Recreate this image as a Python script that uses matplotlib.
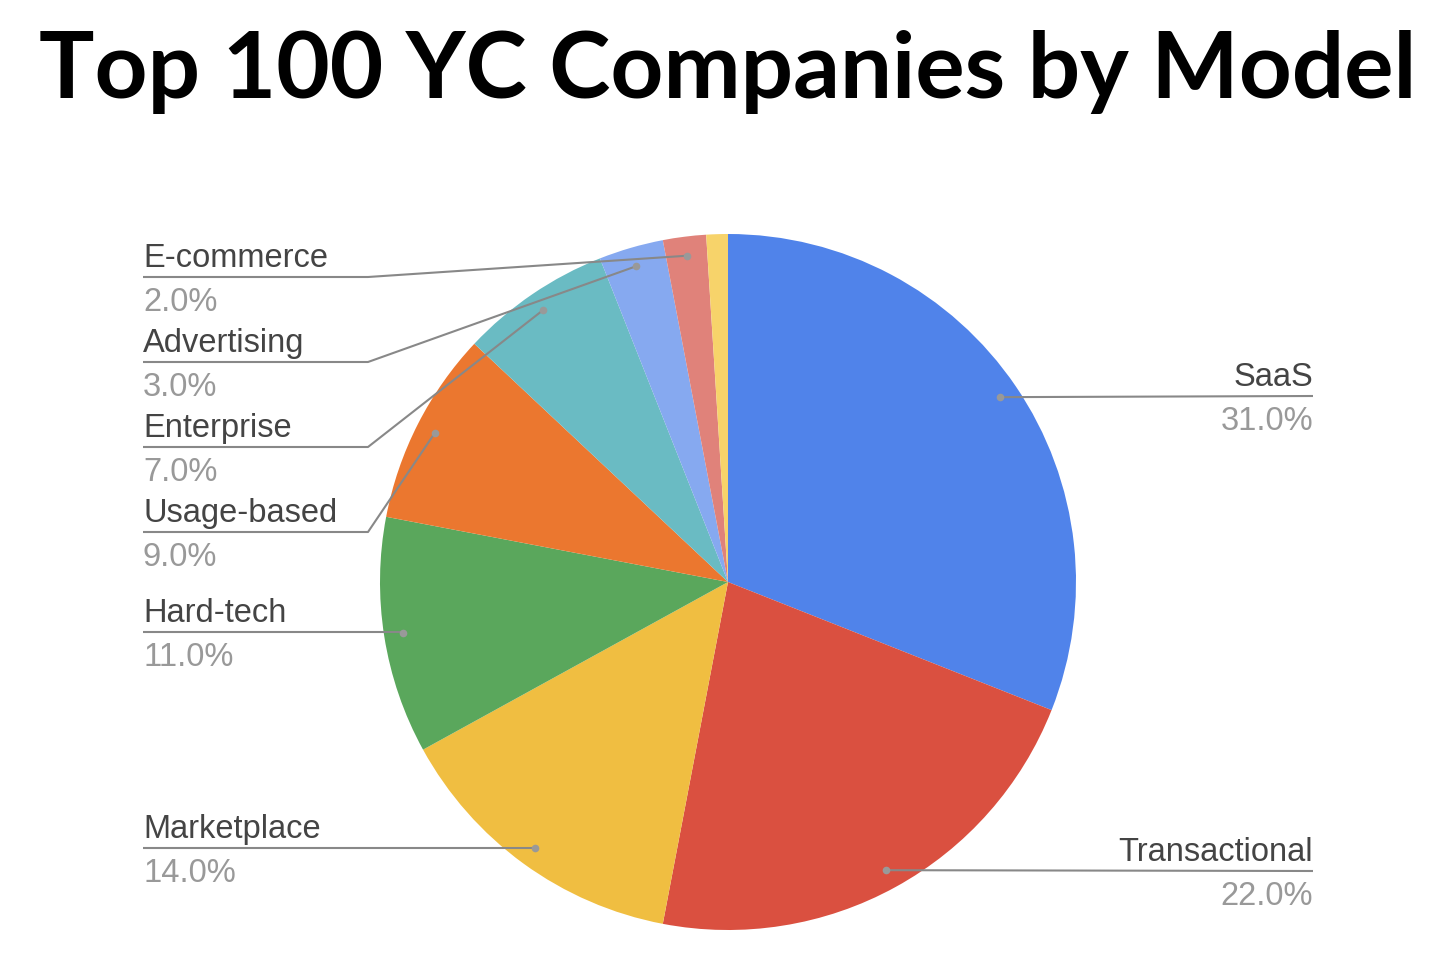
import matplotlib
matplotlib.use("agg")
import matplotlib.pyplot as plt
import numpy as np

# data
categories = ["SaaS", "Transactional", "Marketplace", "Hard-tech", "Usage-based",
              "Enterprise", "Advertising", "E-commerce", "Other"]
shares = [31, 22, 14, 11, 9, 7, 3, 2, 1]
colors = ["#5083EA", "#DA5040", "#F0BE41", "#5AA75C", "#EB772F",
          "#6ABBC3", "#86A9F0", "#E0827A", "#F7D36A"]
shown = ["SaaS", "Transactional", "Marketplace", "Hard-tech", "Usage-based",
         "Enterprise", "Advertising", "E-commerce"]

W, H = 1456, 964
CX, CY, R = 728, H - 582, 348

# label layout: (side, y of underline in px from top)
layout = {
    "SaaS": ("right", 396),
    "Transactional": ("right", 871),
    "Marketplace": ("left", 848),
    "Hard-tech": ("left", 632),
    "Usage-based": ("left", 532),
    "Enterprise": ("left", 447),
    "Advertising": ("left", 362),
    "E-commerce": ("left", 277),
}

fig = plt.figure(figsize=(W / 100, H / 100), dpi=100)
ax = fig.add_axes([0, 0, 1, 1])

ax.pie(shares, colors=colors, startangle=90, counterclock=False,
       center=(CX, CY), radius=R, wedgeprops=dict(linewidth=0),
       frame=True)
ax.set_xlim(0, W)
ax.set_ylim(0, H)
ax.set_aspect("equal")
ax.axis("off")

cum = np.cumsum([0] + shares[:-1])
total = sum(shares)
line_c = "#888888"
fs = 23.5
fam = "Liberation Sans"
for i, name in enumerate(categories):
    if name not in shown:
        continue
    mid = (cum[i] + shares[i] / 2) / total * 360
    ang = np.deg2rad(90 - mid)
    dx = CX + 0.945 * R * np.cos(ang)
    dy = CY + 0.945 * R * np.sin(ang)
    side, ypx = layout[name]
    ly = H - ypx
    pct = "{:.1f}%".format(shares[i] / total * 100)
    if side == "right":
        tx, ha = 1313, "right"
        xs = [dx, 1313]
        ys = [dy, ly]
    else:
        tx, ha = 143, "left"
        if abs(ly - dy) < 3:
            xs = [143, dx]
            ys = [ly, ly]
        else:
            xs = [143, 368, dx]
            ys = [ly, ly, dy]
    ax.text(tx, ly + 10, name, ha=ha, va="baseline", fontsize=fs,
            color="#444444", family=fam)
    ax.text(tx, ly - 34, pct, ha=ha, va="baseline", fontsize=fs,
            color="#999999", family=fam)
    ax.plot(xs, ys, color=line_c, lw=1.5, solid_capstyle="butt", zorder=3)
    ax.plot([dx], [dy], "o", color="#999999", ms=5.5, mec="none", zorder=4)

fig.text(0.5, 1 - 72 / H, "Top 100 YC Companies by Model", ha="center", va="center",
         fontsize=66.5, fontweight="bold", family="Lato", color="black")

fig.savefig("out.png", dpi=100)
